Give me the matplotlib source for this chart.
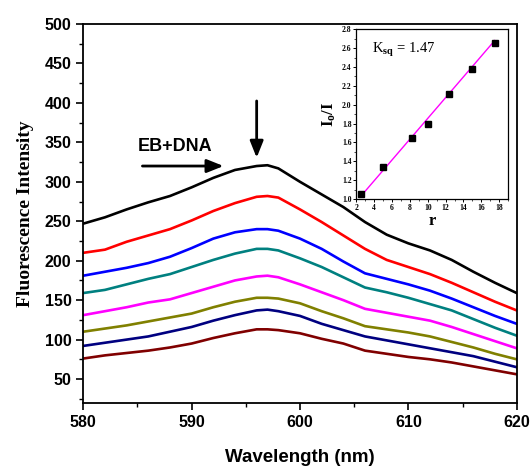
import matplotlib
matplotlib.use("Agg")
import matplotlib.pyplot as plt
from matplotlib.ticker import MultipleLocator

plt.rcParams["mathtext.fontset"] = "custom"
plt.rcParams["mathtext.rm"] = "Liberation Serif"
plt.rcParams["mathtext.it"] = "Liberation Serif:italic"
plt.rcParams["mathtext.bf"] = "Liberation Serif:bold"

# ---------------- data ----------------
wavelength = [580, 582, 584, 586, 588, 590, 592, 594, 596, 597, 598, 600, 602, 604,
              606, 608, 610, 612, 614, 616, 618, 620]
s_black   = [247, 255, 265, 274, 282, 293, 305, 315, 320, 321, 317, 300, 284, 268, 249, 233, 222, 213, 201, 186, 172, 159]
s_red     = [210, 214, 224, 232, 240, 251, 263, 273, 281, 282, 280, 265, 249, 232, 215, 201, 192, 183, 172, 160, 148, 137]
s_blue    = [181, 186, 191, 197, 205, 216, 228, 236, 240, 240, 238, 228, 215, 199, 184, 177, 170, 162, 152, 141, 130, 120]
s_teal    = [159, 163, 170, 177, 183, 192, 201, 209, 215, 215, 213, 203, 192, 179, 166, 160, 153, 145, 137, 126, 115, 105]
s_magenta = [131, 136, 141, 147, 151, 159, 167, 175, 180, 181, 179, 170, 160, 150, 139, 134, 129, 124, 116, 107, 98, 89]
s_olive   = [110, 114, 118, 123, 128, 133, 141, 148, 153, 153, 152, 146, 136, 127, 117, 113, 109, 104, 97, 90, 82, 75]
s_navy    = [92, 96, 100, 104, 110, 116, 124, 131, 137, 138, 136, 130, 120, 112, 104, 99, 94, 89, 84, 79, 72, 65]
s_maroon  = [76, 80, 83, 86, 90, 95, 102, 108, 113, 113, 112, 108, 101, 95, 86, 82, 78, 75, 71, 66, 61, 56]
series = [s_black, s_red, s_blue, s_teal, s_magenta, s_olive, s_navy, s_maroon]
colors = ["#000000", "#ff0000", "#0000ff", "#008080", "#ff00ff", "#808000", "#000080", "#800000"]

# inset (Stern-Volmer) data
r_vals = [2.5, 5.0, 8.2, 10.0, 12.4, 15.0, 17.5]
i0_over_i = [1.05, 1.34, 1.65, 1.80, 2.11, 2.38, 2.65]
fit_r = [2.5, 17.5]
fit_y = [1.03, 2.68]

x_ticks = [580, 590, 600, 610, 620]
y_ticks = [50, 100, 150, 200, 250, 300, 350, 400, 450, 500]

# ---------------- figure ----------------
fig = plt.figure(figsize=(5.32, 4.71), dpi=100)
ax = fig.add_axes([0.1566, 0.145, 0.9712 - 0.1566, 0.949 - 0.145])

for s, c in zip(series, colors):
    ax.plot(wavelength, s, color=c, lw=1.9)

ax.set_xlim(580, 620)
ax.set_ylim(20, 500)
ax.set_xticks(x_ticks)
ax.set_yticks(y_ticks)
ax.xaxis.set_minor_locator(MultipleLocator(5))
ax.yaxis.set_minor_locator(MultipleLocator(25))
ax.tick_params(which="major", direction="out", length=5, width=1.2, top=False, right=False)
ax.tick_params(which="minor", direction="out", length=3, width=1.0, top=False, right=False)
for sp in ax.spines.values():
    sp.set_linewidth(1.3)
for lab in ax.get_xticklabels() + ax.get_yticklabels():
    lab.set_fontfamily("Liberation Sans")
    lab.set_fontweight("bold")
    lab.set_fontsize(11.5)

ax.set_xlabel("Wavelength (nm)", fontfamily="Liberation Sans", fontweight="bold",
              fontsize=13.5, labelpad=14)
ax.set_ylabel("Fluorescence Intensity", fontfamily="Liberation Serif", fontweight="bold",
              fontsize=14, labelpad=8)

# annotations
ax.text(588.5, 345, "EB+DNA", fontfamily="Liberation Sans", fontweight="bold",
        fontsize=13, ha="center", va="center")
ax.annotate("", xy=(593.2, 320), xytext=(585.2, 320),
            arrowprops=dict(arrowstyle="-|>,head_length=1.0,head_width=0.4",
                            color="black", lw=2))
ax.annotate("", xy=(596.0, 327), xytext=(596.0, 406),
            arrowprops=dict(arrowstyle="-|>,head_length=1.0,head_width=0.4",
                            color="black", lw=2))

# ---------------- inset ----------------
ins = fig.add_axes([0.670, 0.5775, 0.955 - 0.670, 0.938 - 0.5775])
ins.plot(fit_r, fit_y, color="#ff00ff", lw=1)
ins.plot(r_vals, i0_over_i, ls="none", marker="s", ms=5, color="black")
ins.set_xlim(2, 19)
ins.set_ylim(1.0, 2.8)
ins.set_xticks([2, 4, 6, 8, 10, 12, 14, 16, 18])
ins.set_yticks([1.0, 1.2, 1.4, 1.6, 1.8, 2.0, 2.2, 2.4, 2.6, 2.8])
ins.set_yticklabels(["1.0", "1.2", "1.4", "1.6", "1.8", "2.0", "2.2", "2.4", "2.6", "2.8"])
ins.xaxis.set_minor_locator(MultipleLocator(1))
ins.yaxis.set_minor_locator(MultipleLocator(0.1))
ins.tick_params(which="major", direction="out", length=2.5, width=0.7, labelsize=5.5, pad=1)
ins.tick_params(which="minor", direction="out", length=1.5, width=0.5)
for lab in ins.get_xticklabels() + ins.get_yticklabels():
    lab.set_fontfamily("Liberation Serif")
    lab.set_fontweight("bold")
for sp in ins.spines.values():
    sp.set_linewidth(0.9)
ins.set_xlabel("r", fontfamily="Liberation Serif", fontweight="bold", fontsize=12, labelpad=1)
ins.set_ylabel(r"I$_\mathregular{o}$/I", fontfamily="Liberation Serif", fontweight="bold",
               fontsize=12, labelpad=3)
ins.text(0.1, 0.88, r"K$_\mathbf{sq}$ = 1.47", transform=ins.transAxes,
         fontfamily="Liberation Serif", fontsize=10.5, ha="left", va="center")

fig.savefig("out.png", dpi=100)
